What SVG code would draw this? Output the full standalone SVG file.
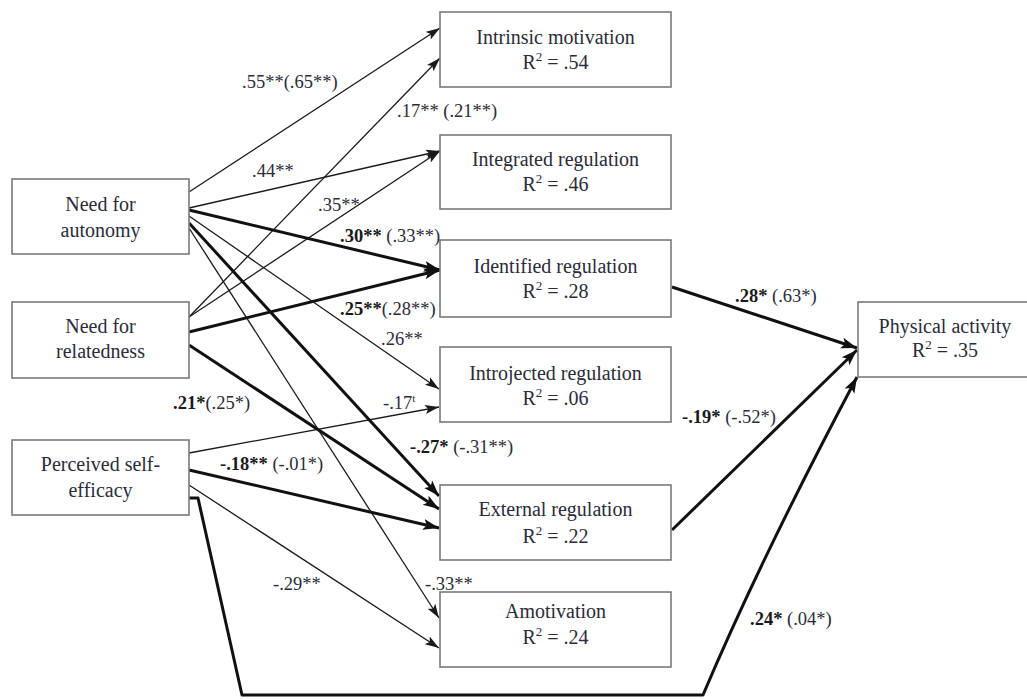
<svg xmlns="http://www.w3.org/2000/svg" width="1027" height="699" viewBox="0 0 1027 699">
  <style>
    .box { fill: #ffffff; stroke: #7a7a7a; stroke-width: 1.6; }
    .node-text { font-family: "Liberation Serif", "Times New Roman", serif; font-size: 20px; fill: #2b2b3a; text-anchor: middle; }
    .lbl { font-family: "Liberation Serif", "Times New Roman", serif; font-size: 18.5px; fill: #2b2b3a; }
    .b { font-weight: bold; fill: #1a1a1a; }
    .thin { fill: none; stroke: #1a1a1a; stroke-width: 1.3; marker-end: url(#arrow-thin); }
    .thick { fill: none; stroke: #111111; stroke-width: 3; marker-end: url(#arrow-thick); stroke-linejoin: round; }
  </style>
  <defs>
    <marker id="arrow-thin" markerUnits="userSpaceOnUse" markerWidth="15" markerHeight="11" refX="14" refY="5.5" orient="auto">
      <path d="M0,1 L14,5.5 L0,10 L3,5.5 Z" fill="#1a1a1a"/>
    </marker>
    <marker id="arrow-thick" markerUnits="userSpaceOnUse" markerWidth="17" markerHeight="13" refX="16" refY="6.5" orient="auto">
      <path d="M0,1 L16,6.5 L0,12 L3.5,6.5 Z" fill="#111111"/>
    </marker>
  </defs>
  <rect width="1027" height="699" fill="#ffffff"/>

  <!-- connectors -->
  <g id="connectors">
    <line class="thin" x1="189" y1="192" x2="440" y2="28"/>
    <line class="thin" x1="189" y1="317" x2="440" y2="58"/>
    <line class="thin" x1="189" y1="208" x2="440" y2="151"/>
    <line class="thin" x1="189" y1="317" x2="440" y2="151"/>
    <line class="thick" x1="189" y1="210" x2="440" y2="270"/>
    <line class="thick" x1="189" y1="332" x2="440" y2="270"/>
    <line class="thin" x1="189" y1="216" x2="439" y2="389"/>
    <line class="thin" x1="189" y1="453" x2="439" y2="407"/>
    <line class="thick" x1="189" y1="345" x2="439" y2="509"/>
    <line class="thick" x1="189" y1="223" x2="439" y2="496"/>
    <line class="thick" x1="189" y1="470" x2="439" y2="528"/>
    <line class="thin" x1="189" y1="485" x2="439" y2="648"/>
    <line class="thin" x1="189" y1="228" x2="439" y2="618"/>
    <line class="thick" x1="672" y1="287" x2="857" y2="348"/>
    <line class="thick" x1="672" y1="530" x2="857" y2="350"/>
    <path class="thick" d="M189,498 H198 L242,695 H703 Q760,560 857,377"/>
  </g>

  <!-- predictors -->
  <g id="need-autonomy">
    <rect class="box" x="12" y="179" width="177" height="75"/>
    <text class="node-text" x="100.5" y="211">Need for</text>
    <text class="node-text" x="100.5" y="237">autonomy</text>
  </g>
  <g id="need-relatedness">
    <rect class="box" x="12" y="302" width="177" height="76"/>
    <text class="node-text" x="100.5" y="333">Need for</text>
    <text class="node-text" x="100.5" y="358">relatedness</text>
  </g>
  <g id="self-efficacy">
    <rect class="box" x="12" y="440" width="177" height="75"/>
    <text class="node-text" x="100.5" y="471">Perceived self-</text>
    <text class="node-text" x="100.5" y="497">efficacy</text>
  </g>

  <!-- motivation types -->
  <g id="intrinsic">
    <rect class="box" x="440" y="12" width="231" height="75"/>
    <text class="node-text" x="555.5" y="44">Intrinsic motivation</text>
    <text class="node-text" x="555.5" y="69">R<tspan font-size="13" dy="-8">2</tspan><tspan dy="8"> = .54</tspan></text>
  </g>
  <g id="integrated">
    <rect class="box" x="440" y="135" width="231" height="74"/>
    <text class="node-text" x="555.5" y="166">Integrated regulation</text>
    <text class="node-text" x="555.5" y="191">R<tspan font-size="13" dy="-8">2</tspan><tspan dy="8"> = .46</tspan></text>
  </g>
  <g id="identified">
    <rect class="box" x="440" y="240" width="231" height="77"/>
    <text class="node-text" x="555.5" y="273">Identified regulation</text>
    <text class="node-text" x="555.5" y="298">R<tspan font-size="13" dy="-8">2</tspan><tspan dy="8"> = .28</tspan></text>
  </g>
  <g id="introjected">
    <rect class="box" x="440" y="347" width="231" height="75"/>
    <text class="node-text" x="555.5" y="380">Introjected regulation</text>
    <text class="node-text" x="555.5" y="405">R<tspan font-size="13" dy="-8">2</tspan><tspan dy="8"> = .06</tspan></text>
  </g>
  <g id="external">
    <rect class="box" x="440" y="485" width="231" height="75"/>
    <text class="node-text" x="555.5" y="516">External regulation</text>
    <text class="node-text" x="555.5" y="543">R<tspan font-size="13" dy="-8">2</tspan><tspan dy="8"> = .22</tspan></text>
  </g>
  <g id="amotivation">
    <rect class="box" x="440" y="592" width="231" height="75"/>
    <text class="node-text" x="555.5" y="618">Amotivation</text>
    <text class="node-text" x="555.5" y="644">R<tspan font-size="13" dy="-8">2</tspan><tspan dy="8"> = .24</tspan></text>
  </g>

  <!-- outcome -->
  <g id="physical-activity">
    <rect class="box" x="858" y="302" width="185" height="75"/>
    <text class="node-text" x="945" y="333">Physical activity</text>
    <text class="node-text" x="945" y="357">R<tspan font-size="13" dy="-8">2</tspan><tspan dy="8"> = .35</tspan></text>
  </g>

  <!-- path coefficients -->
  <g id="coefficients">
    <text class="lbl" x="242" y="88">.55**(.65**)</text>
    <text class="lbl" x="397" y="117">.17** (.21**)</text>
    <text class="lbl" x="252" y="177">.44**</text>
    <text class="lbl" x="318" y="211">.35**</text>
    <text class="lbl" x="340" y="242"><tspan class="b">.30**</tspan> (.33**)</text>
    <text class="lbl" x="340" y="315"><tspan class="b">.25**</tspan>(.28**)</text>
    <text class="lbl" x="381" y="345">.26**</text>
    <text class="lbl" x="173" y="409"><tspan class="b">.21*</tspan>(.25*)</text>
    <text class="lbl" x="383" y="409">-.17<tspan font-size="11" dy="-7">t</tspan></text>
    <text class="lbl" x="410" y="453"><tspan class="b">-.27*</tspan> (-.31**)</text>
    <text class="lbl" x="220" y="470"><tspan class="b">-.18**</tspan> (-.01*)</text>
    <text class="lbl" x="273" y="590">-.29**</text>
    <text class="lbl" x="425" y="590">-.33**</text>
    <text class="lbl" x="735" y="302"><tspan class="b">.28*</tspan> (.63*)</text>
    <text class="lbl" x="682" y="423"><tspan class="b">-.19*</tspan> (-.52*)</text>
    <text class="lbl" x="750" y="625"><tspan class="b">.24*</tspan> (.04*)</text>
  </g>
</svg>
